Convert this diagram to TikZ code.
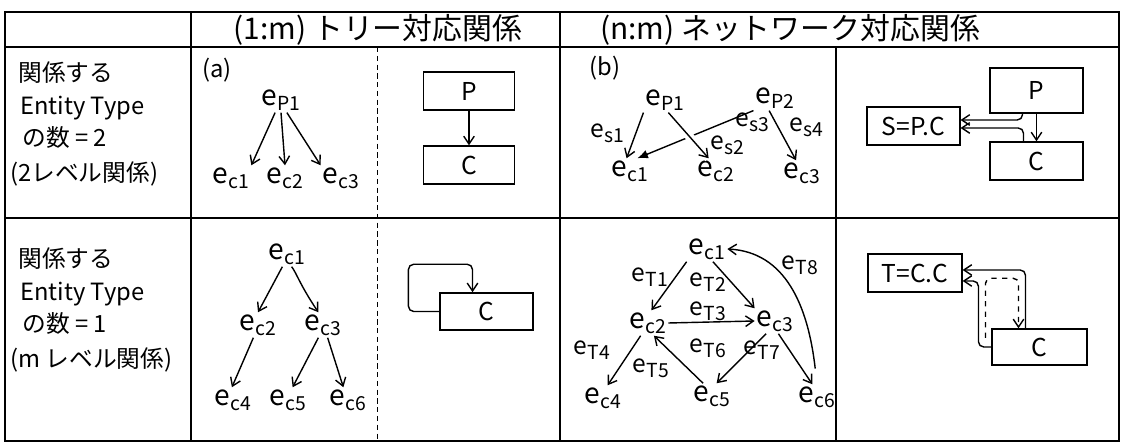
\documentclass[tikz,border=0pt]{standalone}
\usepackage{fontspec}
\setmainfont{Noto Sans CJK JP}
\usetikzlibrary{arrows.meta,calc}
\newcommand{\ee}[1]{e\kern0.2pt\raisebox{-0.35ex}{\fontsize{11}{11}\selectfont #1}}
\begin{document}
\begin{tikzpicture}[x=0.02cm,y=-0.02cm,
  tl/.style={line width=0.7pt},
  ev/.style={font=\fontsize{16}{16}\selectfont, inner sep=1pt},
  lv/.style={font=\fontsize{14}{14}\selectfont, inner sep=1pt},
  lbl/.style={font=\fontsize{13.5}{13.5}\selectfont, inner sep=0pt},
  hdr/.style={font=\fontsize{17}{17}\selectfont, inner sep=0pt},
  box/.style={draw, line width=0.9pt, font=\fontsize{14}{14}\selectfont, inner sep=0pt},
  arr/.style={line width=0.8pt, -{Straight Barb[length=4.5pt,width=6pt]}},
  farr/.style={line width=0.8pt, -{Latex[length=6pt,width=5pt]}},
  rc/.style={rounded corners=3pt}]
\useasboundingbox (0,0) rectangle (1123,448);
% table
\draw[line width=1pt] (5,12) rectangle (1119,441);
\draw[tl] (5,47) -- (1119,47);
\draw[tl] (5,218) -- (1119,218);
\draw[tl] (191,12) -- (191,441);
\draw[tl] (560,12) -- (560,441);
\draw[line width=0.5pt,densely dashed] (377,47) -- (377,441);
\draw[tl] (836,47) -- (836,441);
% header
\node[hdr] (h1) at (378,30) {(1:m) トリー対応関係};
\node[hdr] (h2) at (790,30) {(n:m) ネットワーク対応関係};
% row labels
\node[lbl,anchor=west] (r1a) at (18,73) {関係する};
\node[lbl,anchor=west] (r1b) at (20,108) {Entity Type};
\node[lbl,anchor=west] (r1c) at (22,138) {の数 = 2};
\node[lbl,anchor=west] (r1d) at (10,174) {(2レベル関係)};
\node[lbl,anchor=west] (r2a) at (18,259) {関係する};
\node[lbl,anchor=west] (r2b) at (20,294) {Entity Type};
\node[lbl,anchor=west] (r2c) at (22,324) {の数 = 1};
\node[lbl,anchor=west] (r2d) at (10,360) {(m レベル関係)};
% (a) tree
\node[lbl] (la) at (217,70) {(a)};
\node[ev] (ap1) at (281,100) {\ee{P1}};
\node[ev] (ac1) at (231,178) {\ee{c1}};
\node[ev] (ac2) at (285,178) {\ee{c2}};
\node[ev] (ac3) at (341,178) {\ee{c3}};
\draw[arr] (ap1.-115) -- (ac1.north east);
\draw[arr] (ap1.-90) -- (ac2.north);
\draw[arr] (ap1.-65) -- (ac3.north west);
% tree schema row1
\node[box,minimum width=52pt,minimum height=21.5pt] (P1) at (469,91) {P};
\node[box,minimum width=52pt,minimum height=21.5pt] (C1) at (469,165) {C};
\draw[arr] (P1) -- (C1);
% (b) network
\node[lbl] (lb) at (605,68) {(b)};
\node[ev] (bp1) at (665,100) {\ee{P1}};
\node[ev] (bp2) at (775,98) {\ee{P2}};
\node[lv] (bs1) at (607,133) {\ee{s1}};
\node[lv] (bs2) at (727,145) {\ee{s2}};
\node[lv] (bs3) at (752,122) {\ee{s3}};
\node[lv] (bs4) at (806,127) {\ee{s4}};
\node[ev] (bc1) at (630,171) {\ee{c1}};
\node[ev] (bc2) at (716,171) {\ee{c2}};
\node[ev] (bc3) at (802,173) {\ee{c3}};
\draw[arr] (bp1.south west) -- (bc1.105);
\draw[farr] (bp2.south west) -- (bc1.60);
\draw[arr,preaction={draw,white,line width=5pt,-}] (bp1.-75) -- (bc2.120);
\draw[arr] (bp2.-115) -- (bc3.115);
% network schema row1
\node[box,minimum width=52.7pt,minimum height=25.5pt] (P2) at (1036.5,90.5) {P};
\node[box,minimum width=52.7pt,minimum height=21.5pt] (S2) at (913.5,126) {S=P.C};
\node[box,minimum width=52.7pt,minimum height=21.5pt] (C2) at (1036.5,161) {C};
\draw[arr] (P2) -- (C2);
\draw[arr,rc] ($(P2.south)+(-14,0)$) |- ($(S2.east)+(0,-6)$);
\draw[arr,rc] ($(C2.north)+(-13,0)$) |- ($(S2.east)+(0,2)$);
% (a) tree row2
\node[ev] (cc1) at (287,254) {\ee{c1}};
\node[ev] (cc2) at (258,325) {\ee{c2}};
\node[ev] (cc3) at (323,325) {\ee{c3}};
\node[ev] (cc4) at (233,400) {\ee{c4}};
\node[ev] (cc5) at (288,400) {\ee{c5}};
\node[ev] (cc6) at (348,400) {\ee{c6}};
\draw[arr] (cc1.-110) -- (cc2.north);
\draw[arr] (cc1.-70) .. controls (296,272) and (300,285) .. (cc3.110);
\draw[arr] (cc2.-110) -- (cc4.95);
\draw[arr] (cc3.-110) -- (cc5.70);
\draw[arr] (cc3.-70) -- (cc6.110);
% tree schema row2
\node[box,minimum width=52.7pt,minimum height=21pt] (C4) at (486.5,311.5) {C};
\draw[arr,rc] (C4.west) -- ++(-31,0) |- ($(C4.north)+(-14,-28)$) -- ($(C4.north)+(-14,0)$);
% network row2
\node[ev] (nc1) at (707,249) {\ee{c1}};
\node[ev] (nc2) at (648,323) {\ee{c2}};
\node[ev] (nc3) at (775,321) {\ee{c3}};
\node[ev] (nc4) at (603,398) {\ee{c4}};
\node[ev] (nc5) at (712,396) {\ee{c5}};
\node[ev] (nc6) at (817,397) {\ee{c6}};
\node[lv] (t1) at (650,277) {\ee{T1}};
\node[lv] (t2) at (708,282) {\ee{T2}};
\node[lv] (t3) at (708,311) {\ee{T3}};
\node[lv] (t4) at (592,350) {\ee{T4}};
\node[lv] (t5) at (651,368) {\ee{T5}};
\node[lv] (t6) at (708,348) {\ee{T6}};
\node[lv] (t7) at (762,350) {\ee{T7}};
\node[lv] (t8) at (800,265) {\ee{T8}};
\draw[arr] (nc1.south west) -- (nc2.75);
\draw[arr] (nc1.-65) -- (nc3.north west);
\draw[arr] (nc2.east) -- (nc3.west);
\draw[arr] (nc2.-120) -- (nc4.70);
\draw[arr] (nc5.125) -- (nc2.-65);
\draw[arr] (nc3.-125) -- (nc5.70);
\draw[arr] (nc3.-75) -- (nc6.110);
\draw[arr,shorten <=9pt] (nc6.north) .. controls (808,305) and (785,252) .. (nc1.east);
% network schema row2
\node[box,minimum width=53.3pt,minimum height=21.5pt] (T3) at (915,273) {T=C.C};
\node[box,minimum width=53.8pt,minimum height=20.4pt] (C3) at (1039.5,347) {C};
\draw[arr,rc] ($(C3.north)+(-14,0)$) |- ($(T3.east)+(0,-3)$);
\draw[arr,rc] (C3.west) -- ++(-13,0) |- ($(T3.east)+(0,8)$);
\draw[arr,rc,dashed] ($(C3.west)+(-6,-9)$) |- ($(C3.north)+(-21,-50)$) -- ($(C3.north)+(-21,0)$);
\end{tikzpicture}
\end{document}
